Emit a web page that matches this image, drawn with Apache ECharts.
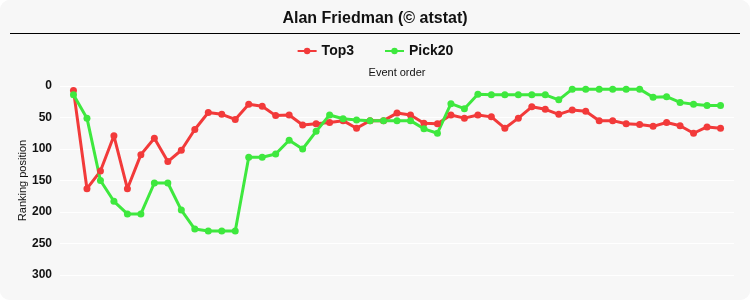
<!DOCTYPE html>
<html>
<head>
<meta charset="utf-8">
<script src="https://cdn.jsdelivr.net/npm/echarts@6/dist/echarts.min.js"></script>
<style>
html,body{margin:0;padding:0;background:#ffffff;}
#c{width:750px;height:300px;background:#f7f7f7;border-radius:10px;overflow:hidden;}
</style>
</head>
<body>
<div id="c"></div>
<script>
const titleText = 'Alan Friedman (© atstat)';
const seriesNames = ['Top3', 'Pick20'];
const eventOrder = [1,2,3,4,5,6,7,8,9,10,11,12,13,14,15,16,17,18,19,20,21,22,23,24,25,26,27,28,29,30,31,32,33,34,35,36,37,38,39,40,41,42,43,44,45,46,47,48,49];
const top3 = [7,163,135,79,163,109,83,120,102,69,42,45,53,29,32,47,46,62,60,58,55,67,55,55,43,46,59,60,46,51,46,49,67,51,33,37,45,38,40,55,55,60,61,64,58,63,75,65,67];
const pick20 = [14,51,150,183,203,203,154,154,197,227,230,230,230,113,113,108,86,100,72,46,52,54,55,55,55,55,68,75,28,36,13,14,14,14,14,14,22,5,5,5,5,5,5,18,17,26,29,31,31];
const yTicks = [0,50,100,150,200,250,300];

const chart = echarts.init(document.getElementById('c'));
const narrow = '"Liberation Sans Narrow", "Liberation Sans", Arial, sans-serif';
function pairs(arr){ return eventOrder.map((x,i)=>[x,arr[i]]); }
chart.setOption({
  animation:false,
  backgroundColor:'#f7f7f7',
  title:{
    text:titleText, left:'center', top:6,
    textStyle:{fontFamily:narrow, fontSize:16, fontWeight:'bold', color:'#111'}
  },
  graphic:[{type:'line', shape:{x1:10,y1:33.5,x2:740,y2:33.5}, style:{stroke:'#000', lineWidth:1}}],
  legend:{
    top:39, left:'center', itemGap:30, itemWidth:19, itemHeight:8,
    textStyle:{fontFamily:narrow, fontSize:14, fontWeight:'bold', color:'#111'},
    data:seriesNames
  },
  grid:{left:60, right:16, top:86, bottom:25},
  xAxis:{
    type:'value', position:'top', min:0, max:50,
    name:'Event order', nameLocation:'middle', nameGap:8,
    nameTextStyle:{fontFamily:'Liberation Sans, Arial, sans-serif', fontSize:11, color:'#111'},
    axisLine:{show:false}, axisTick:{show:false}, axisLabel:{show:false}, splitLine:{show:false}
  },
  yAxis:{
    type:'value', inverse:true, min:yTicks[0], max:yTicks[yTicks.length-1], interval:50,
    name:'Ranking position', nameLocation:'middle', nameGap:32, nameMoveOverlap:false,
    nameTextStyle:{fontFamily:'Liberation Sans, Arial, sans-serif', fontSize:11, color:'#111'},
    axisLine:{show:false}, axisTick:{show:false},
    axisLabel:{fontFamily:narrow, fontSize:12, fontWeight:'bold', color:'#111', margin:8},
    splitLine:{lineStyle:{color:'#ffffff', width:1}}
  },
  series:[
    {name:seriesNames[0], type:'line', data:pairs(top3), symbol:'circle', symbolSize:7,
     lineStyle:{width:3, color:'#f23a3a'}, itemStyle:{color:'#f23a3a'}},
    {name:seriesNames[1], type:'line', data:pairs(pick20), symbol:'circle', symbolSize:7,
     lineStyle:{width:3, color:'#3ee83e'}, itemStyle:{color:'#3ee83e'}}
  ]
});
</script>
</body>
</html>
